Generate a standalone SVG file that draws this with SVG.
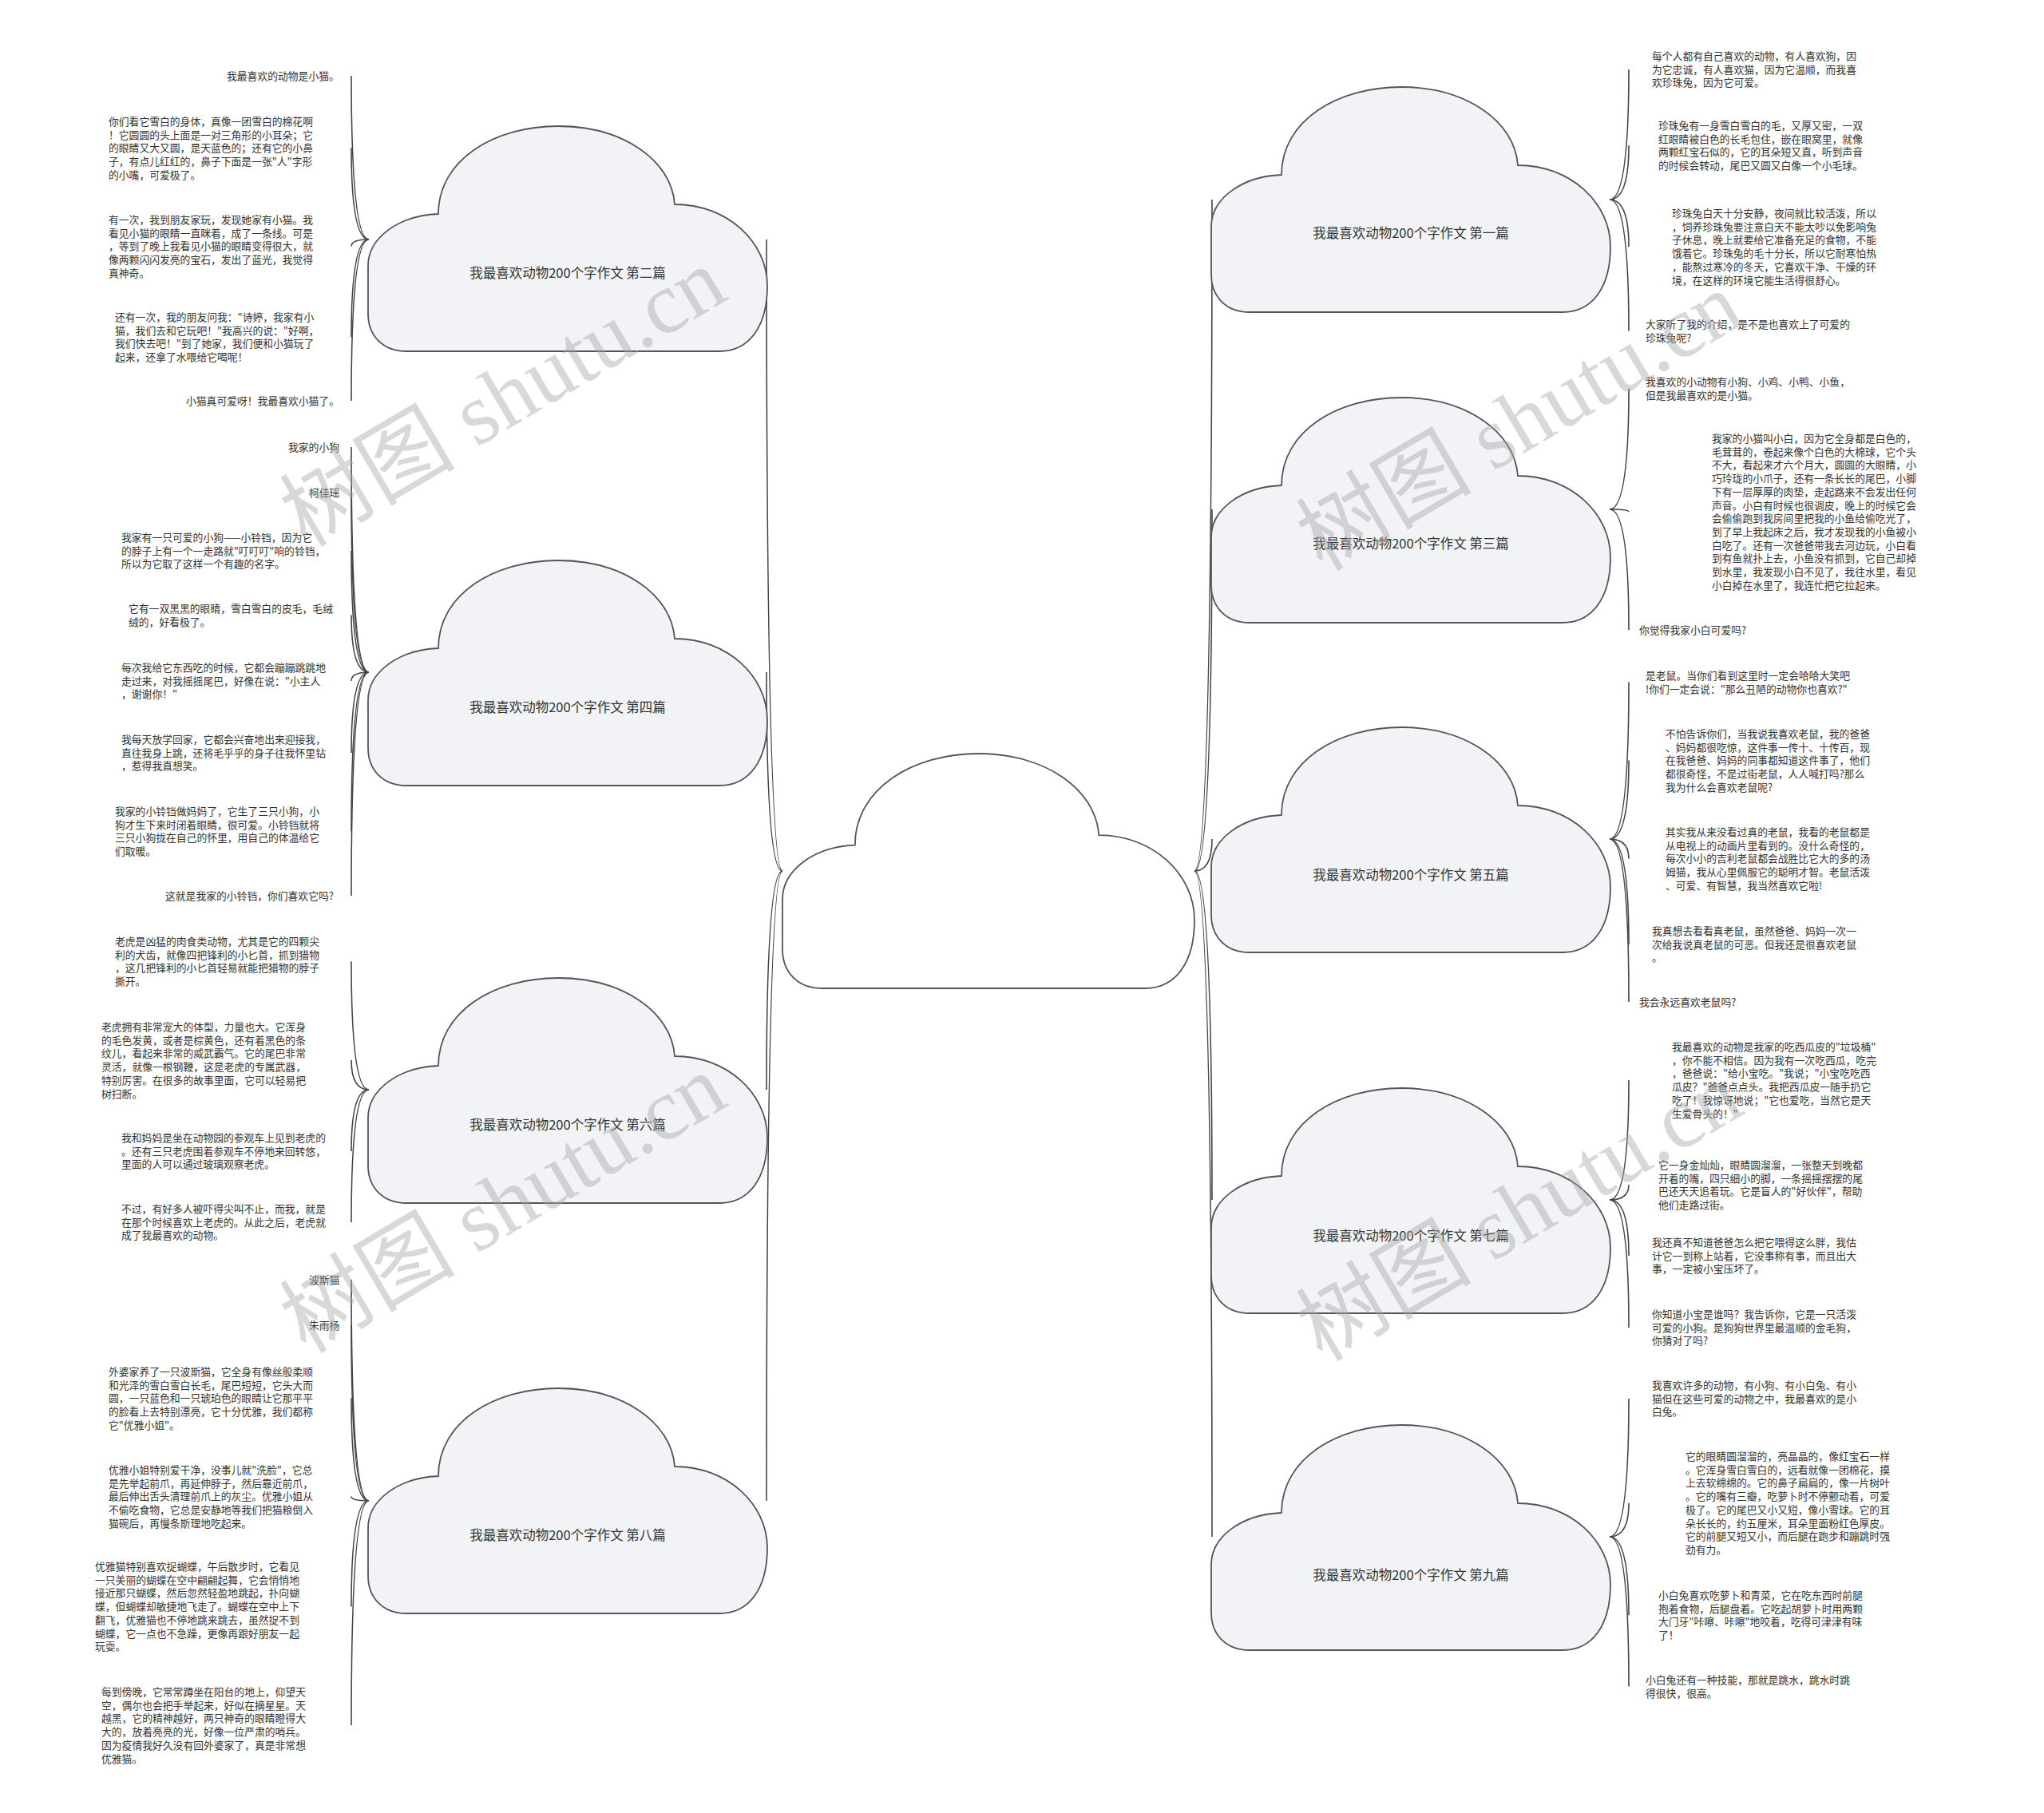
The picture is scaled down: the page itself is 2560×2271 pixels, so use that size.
<svg xmlns="http://www.w3.org/2000/svg" xmlns:xlink="http://www.w3.org/1999/xlink" width="2560" height="2271" viewBox="0 0 2560 2271">
<style>
.cl{fill:#f1f3f6;stroke:#555;stroke-width:1.8}
.root{fill:#fff;stroke:#555;stroke-width:1.8}
.lab{font-family:"Noto Sans CJK SC",sans-serif;font-size:16.5px;fill:#333;text-anchor:middle}
.lf{font-family:"Noto Sans CJK SC",sans-serif;font-size:12.8px;fill:#333}
.ln{fill:none;stroke:#444;stroke-width:1.6}
.wm{font-family:"Liberation Serif","Noto Sans CJK SC",serif;font-size:110px;fill:#a8a8a8;fill-opacity:0.45;text-anchor:middle}
</style>
<defs>
<path id="cloud" vector-effect="non-scaling-stroke" d="M48,282 C18,282 0,262 0,235 L0,175 C0,140 38,112 88,110 C88,42 158,0 238,0 C318,0 380,42 384,98 C450,98 500,145 500,200 C500,250 478,282 440,282 Z"/>
</defs>
<rect width="2560" height="2271" fill="#fff"/>
<g id="connectors">
<path class="ln" d="M980,1091 Q960,1091 960,300"/>
<path class="ln" d="M980,1091 Q960,1091 960,842"/>
<path class="ln" d="M980,1091 Q960,1091 960,1365"/>
<path class="ln" d="M980,1091 Q960,1091 960,1880"/>
<path class="ln" d="M1496,1091 Q1518,1091 1518,250"/>
<path class="ln" d="M1496,1091 Q1518,1091 1518,638"/>
<path class="ln" d="M1496,1091 Q1518,1091 1518,1051"/>
<path class="ln" d="M1496,1091 Q1518,1091 1518,1503"/>
<path class="ln" d="M1496,1091 Q1518,1091 1518,1925"/>
<path class="ln" d="M462,300 Q440,300 440,95"/>
<path class="ln" d="M462,300 Q440,300 440,185.6"/>
<path class="ln" d="M462,300 Q440,300 440,308.6"/>
<path class="ln" d="M462,300 Q440,300 440,422.3"/>
<path class="ln" d="M462,300 Q440,300 440,502"/>
<path class="ln" d="M462,842 Q440,842 440,560"/>
<path class="ln" d="M462,842 Q440,842 440,617"/>
<path class="ln" d="M462,842 Q440,842 440,690"/>
<path class="ln" d="M462,842 Q440,842 440,770.6"/>
<path class="ln" d="M462,842 Q440,842 440,853"/>
<path class="ln" d="M462,842 Q440,842 440,943"/>
<path class="ln" d="M462,842 Q440,842 440,1041.3"/>
<path class="ln" d="M462,842 Q440,842 440,1122"/>
<path class="ln" d="M462,1365 Q440,1365 440,1204.3"/>
<path class="ln" d="M462,1365 Q440,1365 440,1328"/>
<path class="ln" d="M462,1365 Q440,1365 440,1442"/>
<path class="ln" d="M462,1365 Q440,1365 440,1531"/>
<path class="ln" d="M462,1880 Q440,1880 440,1603"/>
<path class="ln" d="M462,1880 Q440,1880 440,1660"/>
<path class="ln" d="M462,1880 Q440,1880 440,1751.6"/>
<path class="ln" d="M462,1880 Q440,1880 440,1874.6"/>
<path class="ln" d="M462,1880 Q440,1880 440,2012.4"/>
<path class="ln" d="M462,1880 Q440,1880 440,2161"/>
<path class="ln" d="M2016,250 Q2040,250 2040,87"/>
<path class="ln" d="M2016,250 Q2040,250 2040,182.3"/>
<path class="ln" d="M2016,250 Q2040,250 2040,309"/>
<path class="ln" d="M2016,250 Q2040,250 2040,414.6"/>
<path class="ln" d="M2016,638 Q2040,638 2040,486.6"/>
<path class="ln" d="M2016,638 Q2040,638 2040,641.1"/>
<path class="ln" d="M2016,638 Q2040,638 2040,789"/>
<path class="ln" d="M2016,1051 Q2040,1051 2040,854.6"/>
<path class="ln" d="M2016,1051 Q2040,1051 2040,952.6"/>
<path class="ln" d="M2016,1051 Q2040,1051 2040,1075.6"/>
<path class="ln" d="M2016,1051 Q2040,1051 2040,1183"/>
<path class="ln" d="M2016,1051 Q2040,1051 2040,1255"/>
<path class="ln" d="M2016,1503 Q2040,1503 2040,1353"/>
<path class="ln" d="M2016,1503 Q2040,1503 2040,1484.3"/>
<path class="ln" d="M2016,1503 Q2040,1503 2040,1573"/>
<path class="ln" d="M2016,1503 Q2040,1503 2040,1663"/>
<path class="ln" d="M2016,1925 Q2040,1925 2040,1752"/>
<path class="ln" d="M2016,1925 Q2040,1925 2040,1882.7"/>
<path class="ln" d="M2016,1925 Q2040,1925 2040,2023.3"/>
<path class="ln" d="M2016,1925 Q2040,1925 2040,2112.6"/>
</g>
<g id="root"><use xlink:href="#cloud" class="root" transform="translate(980,944) scale(1.032,1.0426)"/></g>
<g id="p2"><use xlink:href="#cloud" class="cl" transform="translate(461,158)"/><text class="lab" x="711" y="348">我最喜欢动物200个字作文 第二篇</text></g>
<g id="p4"><use xlink:href="#cloud" class="cl" transform="translate(461,702)"/><text class="lab" x="711" y="892">我最喜欢动物200个字作文 第四篇</text></g>
<g id="p6"><use xlink:href="#cloud" class="cl" transform="translate(461,1225)"/><text class="lab" x="711" y="1415">我最喜欢动物200个字作文 第六篇</text></g>
<g id="p8"><use xlink:href="#cloud" class="cl" transform="translate(461,1739)"/><text class="lab" x="711" y="1929">我最喜欢动物200个字作文 第八篇</text></g>
<g id="p1"><use xlink:href="#cloud" class="cl" transform="translate(1517,109)"/><text class="lab" x="1767" y="298">我最喜欢动物200个字作文 第一篇</text></g>
<g id="p3"><use xlink:href="#cloud" class="cl" transform="translate(1517,498)"/><text class="lab" x="1767" y="687">我最喜欢动物200个字作文 第三篇</text></g>
<g id="p5"><use xlink:href="#cloud" class="cl" transform="translate(1517,911)"/><text class="lab" x="1767" y="1102">我最喜欢动物200个字作文 第五篇</text></g>
<g id="p7"><use xlink:href="#cloud" class="cl" transform="translate(1517,1363)"/><text class="lab" x="1767" y="1554">我最喜欢动物200个字作文 第七篇</text></g>
<g id="p9"><use xlink:href="#cloud" class="cl" transform="translate(1517,1785)"/><text class="lab" x="1767" y="1979">我最喜欢动物200个字作文 第九篇</text></g>
<g id="a1"><text class="lf" x="284" y="100">我最喜欢的动物是小猫。</text></g>
<g id="a2"><text class="lf" x="136" y="157"><tspan x="136">你们看它雪白的身体，真像一团雪白的棉花啊</tspan><tspan x="136" dy="16.7">！它圆圆的头上面是一对三角形的小耳朵；它</tspan><tspan x="136" dy="16.7">的眼睛又大又圆，是天蓝色的；还有它的小鼻</tspan><tspan x="136" dy="16.7">子，有点儿红红的，鼻子下面是一张"人"字形</tspan><tspan x="136" dy="16.7">的小嘴，可爱极了。</tspan></text></g>
<g id="a3"><text class="lf" x="136" y="280"><tspan x="136">有一次，我到朋友家玩，发现她家有小猫。我</tspan><tspan x="136" dy="16.7">看见小猫的眼睛一直眯着，成了一条线。可是</tspan><tspan x="136" dy="16.7">，等到了晚上我看见小猫的眼睛变得很大，就</tspan><tspan x="136" dy="16.7">像两颗闪闪发亮的宝石，发出了蓝光，我觉得</tspan><tspan x="136" dy="16.7">真神奇。</tspan></text></g>
<g id="a4"><text class="lf" x="144" y="402"><tspan x="144">还有一次，我的朋友问我："诗婷，我家有小</tspan><tspan x="144" dy="16.7">猫，我们去和它玩吧！"我高兴的说："好啊，</tspan><tspan x="144" dy="16.7">我们快去吧！"到了她家，我们便和小猫玩了</tspan><tspan x="144" dy="16.7">起来，还拿了水喂给它喝呢！</tspan></text></g>
<g id="a5"><text class="lf" x="233" y="507">小猫真可爱呀！我最喜欢小猫了。</text></g>
<g id="b1"><text class="lf" x="361" y="565">我家的小狗</text></g>
<g id="b2"><text class="lf" x="387" y="622">柯佳瑶</text></g>
<g id="b3"><text class="lf" x="152" y="678"><tspan x="152">我家有一只可爱的小狗——小铃铛，因为它</tspan><tspan x="152" dy="16.7">的脖子上有一个一走路就"叮叮叮"响的铃铛，</tspan><tspan x="152" dy="16.7">所以为它取了这样一个有趣的名字。</tspan></text></g>
<g id="b4"><text class="lf" x="161" y="767"><tspan x="161">它有一双黑黑的眼睛，雪白雪白的皮毛，毛绒</tspan><tspan x="161" dy="16.7">绒的，好看极了。</tspan></text></g>
<g id="b5"><text class="lf" x="152" y="841"><tspan x="152">每次我给它东西吃的时候，它都会蹦蹦跳跳地</tspan><tspan x="152" dy="16.7">走过来，对我摇摇尾巴，好像在说："小主人</tspan><tspan x="152" dy="16.7">，谢谢你！"</tspan></text></g>
<g id="b6"><text class="lf" x="152" y="931"><tspan x="152">我每天放学回家，它都会兴奋地出来迎接我，</tspan><tspan x="152" dy="16.7">直往我身上跳，还将毛乎乎的身子往我怀里钻</tspan><tspan x="152" dy="16.7">，惹得我直想笑。</tspan></text></g>
<g id="b7"><text class="lf" x="144" y="1021"><tspan x="144">我家的小铃铛做妈妈了，它生了三只小狗，小</tspan><tspan x="144" dy="16.7">狗才生下来时闭着眼睛，很可爱。小铃铛就将</tspan><tspan x="144" dy="16.7">三只小狗拢在自己的怀里，用自己的体温给它</tspan><tspan x="144" dy="16.7">们取暖。</tspan></text></g>
<g id="b8"><text class="lf" x="207" y="1127">这就是我家的小铃铛，你们喜欢它吗?</text></g>
<g id="c1"><text class="lf" x="144" y="1184"><tspan x="144">老虎是凶猛的肉食类动物，尤其是它的四颗尖</tspan><tspan x="144" dy="16.7">利的犬齿，就像四把锋利的小匕首，抓到猎物</tspan><tspan x="144" dy="16.7">，这几把锋利的小匕首轻易就能把猎物的脖子</tspan><tspan x="144" dy="16.7">撕开。</tspan></text></g>
<g id="c2"><text class="lf" x="127" y="1291"><tspan x="127">老虎拥有非常宠大的体型，力量也大。它浑身</tspan><tspan x="127" dy="16.7">的毛色发黄，或者是棕黄色，还有着黑色的条</tspan><tspan x="127" dy="16.7">纹儿，看起来非常的威武霸气。它的尾巴非常</tspan><tspan x="127" dy="16.7">灵活，就像一根钢鞭，这是老虎的专属武器，</tspan><tspan x="127" dy="16.7">特别厉害。在很多的故事里面，它可以轻易把</tspan><tspan x="127" dy="16.7">树扫断。</tspan></text></g>
<g id="c3"><text class="lf" x="152" y="1430"><tspan x="152">我和妈妈是坐在动物园的参观车上见到老虎的</tspan><tspan x="152" dy="16.7">。还有三只老虎围着参观车不停地来回转悠，</tspan><tspan x="152" dy="16.7">里面的人可以通过玻璃观察老虎。</tspan></text></g>
<g id="c4"><text class="lf" x="152" y="1519"><tspan x="152">不过，有好多人被吓得尖叫不止，而我，就是</tspan><tspan x="152" dy="16.7">在那个时候喜欢上老虎的。从此之后，老虎就</tspan><tspan x="152" dy="16.7">成了我最喜欢的动物。</tspan></text></g>
<g id="d1"><text class="lf" x="387" y="1608">波斯猫</text></g>
<g id="d2"><text class="lf" x="387" y="1665">朱雨杨</text></g>
<g id="d3"><text class="lf" x="136" y="1723"><tspan x="136">外婆家养了一只波斯猫，它全身有像丝般柔顺</tspan><tspan x="136" dy="16.7">和光泽的雪白雪白长毛，尾巴短短，它头大而</tspan><tspan x="136" dy="16.7">圆，一只蓝色和一只琥珀色的眼睛让它那平平</tspan><tspan x="136" dy="16.7">的脸看上去特别漂亮，它十分优雅，我们都称</tspan><tspan x="136" dy="16.7">它"优雅小姐"。</tspan></text></g>
<g id="d4"><text class="lf" x="136" y="1846"><tspan x="136">优雅小姐特别爱干净，没事儿就"洗脸"，它总</tspan><tspan x="136" dy="16.7">是先举起前爪，再延伸脖子，然后靠近前爪，</tspan><tspan x="136" dy="16.7">最后伸出舌头清理前爪上的灰尘。优雅小姐从</tspan><tspan x="136" dy="16.7">不偷吃食物，它总是安静地等我们把猫粮倒入</tspan><tspan x="136" dy="16.7">猫碗后，再慢条斯理地吃起来。</tspan></text></g>
<g id="d5"><text class="lf" x="119" y="1967"><tspan x="119">优雅猫特别喜欢捉蝴蝶，午后散步时，它看见</tspan><tspan x="119" dy="16.7">一只美丽的蝴蝶在空中翩翩起舞，它会悄悄地</tspan><tspan x="119" dy="16.7">接近那只蝴蝶，然后忽然轻盈地跳起，扑向蝴</tspan><tspan x="119" dy="16.7">蝶，但蝴蝶却敏捷地飞走了。蝴蝶在空中上下</tspan><tspan x="119" dy="16.7">翻飞，优雅猫也不停地跳来跳去，虽然捉不到</tspan><tspan x="119" dy="16.7">蝴蝶，它一点也不急躁，更像再跟好朋友一起</tspan><tspan x="119" dy="16.7">玩耍。</tspan></text></g>
<g id="d6"><text class="lf" x="127" y="2124"><tspan x="127">每到傍晚，它常常蹲坐在阳台的地上，仰望天</tspan><tspan x="127" dy="16.7">空，偶尔也会把手举起来，好似在摘星星。天</tspan><tspan x="127" dy="16.7">越黑，它的精神越好，两只神奇的眼睛瞪得大</tspan><tspan x="127" dy="16.7">大的，放着亮亮的光，好像一位严肃的哨兵。</tspan><tspan x="127" dy="16.7">因为疫情我好久没有回外婆家了，真是非常想</tspan><tspan x="127" dy="16.7">优雅猫。</tspan></text></g>
<g id="e1"><text class="lf" x="2069" y="75"><tspan x="2069">每个人都有自己喜欢的动物，有人喜欢狗，因</tspan><tspan x="2069" dy="16.7">为它忠诚，有人喜欢猫，因为它温顺，而我喜</tspan><tspan x="2069" dy="16.7">欢珍珠兔，因为它可爱。</tspan></text></g>
<g id="e2"><text class="lf" x="2077" y="162"><tspan x="2077">珍珠兔有一身雪白雪白的毛，又厚又密，一双</tspan><tspan x="2077" dy="16.7">红眼睛被白色的长毛包住，嵌在眼窝里，就像</tspan><tspan x="2077" dy="16.7">两颗红宝石似的，它的耳朵短又直，听到声音</tspan><tspan x="2077" dy="16.7">的时候会转动，尾巴又圆又白像一个小毛球。</tspan></text></g>
<g id="e3"><text class="lf" x="2094" y="272"><tspan x="2094">珍珠兔白天十分安静，夜间就比较活泼，所以</tspan><tspan x="2094" dy="16.7">，饲养珍珠兔要注意白天不能太吵以免影响兔</tspan><tspan x="2094" dy="16.7">子休息，晚上就要给它准备充足的食物，不能</tspan><tspan x="2094" dy="16.7">饿着它。珍珠兔的毛十分长，所以它耐寒怕热</tspan><tspan x="2094" dy="16.7">，能熬过寒冷的冬天，它喜欢干净、干燥的环</tspan><tspan x="2094" dy="16.7">境，在这样的环境它能生活得很舒心。</tspan></text></g>
<g id="e4"><text class="lf" x="2061" y="411"><tspan x="2061">大家听了我的介绍，是不是也喜欢上了可爱的</tspan><tspan x="2061" dy="16.7">珍珠兔呢?</tspan></text></g>
<g id="f1"><text class="lf" x="2061" y="483"><tspan x="2061">我喜欢的小动物有小狗、小鸡、小鸭、小鱼，</tspan><tspan x="2061" dy="16.7">但是我最喜欢的是小猫。</tspan></text></g>
<g id="f2"><text class="lf" x="2144" y="554"><tspan x="2144">我家的小猫叫小白，因为它全身都是白色的，</tspan><tspan x="2144" dy="16.7">毛茸茸的，卷起来像个白色的大棉球，它个头</tspan><tspan x="2144" dy="16.7">不大，看起来才六个月大，圆圆的大眼睛，小</tspan><tspan x="2144" dy="16.7">巧玲珑的小爪子，还有一条长长的尾巴，小脚</tspan><tspan x="2144" dy="16.7">下有一层厚厚的肉垫，走起路来不会发出任何</tspan><tspan x="2144" dy="16.7">声音。小白有时候也很调皮，晚上的时候它会</tspan><tspan x="2144" dy="16.7">会偷偷跑到我房间里把我的小鱼给偷吃光了，</tspan><tspan x="2144" dy="16.7">到了早上我起床之后，我才发现我的小鱼被小</tspan><tspan x="2144" dy="16.7">白吃了。还有一次爸爸带我去河边玩，小白看</tspan><tspan x="2144" dy="16.7">到有鱼就扑上去，小鱼没有抓到，它自己却掉</tspan><tspan x="2144" dy="16.7">到水里，我发现小白不见了，我往水里，看见</tspan><tspan x="2144" dy="16.7">小白掉在水里了，我连忙把它拉起来。</tspan></text></g>
<g id="f3"><text class="lf" x="2053" y="794">你觉得我家小白可爱吗?</text></g>
<g id="g1"><text class="lf" x="2061" y="851"><tspan x="2061">是老鼠。当你们看到这里时一定会哈哈大笑吧</tspan><tspan x="2061" dy="16.7">!你们一定会说："那么丑陋的动物你也喜欢?"</tspan></text></g>
<g id="g2"><text class="lf" x="2086" y="924"><tspan x="2086">不怕告诉你们，当我说我喜欢老鼠，我的爸爸</tspan><tspan x="2086" dy="16.7">、妈妈都很吃惊，这件事一传十、十传百，现</tspan><tspan x="2086" dy="16.7">在我爸爸、妈妈的同事都知道这件事了，他们</tspan><tspan x="2086" dy="16.7">都很奇怪，不是过街老鼠，人人喊打吗?那么</tspan><tspan x="2086" dy="16.7">我为什么会喜欢老鼠呢?</tspan></text></g>
<g id="g3"><text class="lf" x="2086" y="1047"><tspan x="2086">其实我从来没看过真的老鼠，我看的老鼠都是</tspan><tspan x="2086" dy="16.7">从电视上的动画片里看到的。没什么奇怪的，</tspan><tspan x="2086" dy="16.7">每次小小的吉利老鼠都会战胜比它大的多的汤</tspan><tspan x="2086" dy="16.7">姆猫，我从心里佩服它的聪明才智。老鼠活泼</tspan><tspan x="2086" dy="16.7">、可爱、有智慧，我当然喜欢它啦!</tspan></text></g>
<g id="g4"><text class="lf" x="2069" y="1171"><tspan x="2069">我真想去看看真老鼠，虽然爸爸、妈妈一次一</tspan><tspan x="2069" dy="16.7">次给我说真老鼠的可恶。但我还是很喜欢老鼠</tspan><tspan x="2069" dy="16.7">。</tspan></text></g>
<g id="g5"><text class="lf" x="2053" y="1260">我会永远喜欢老鼠吗?</text></g>
<g id="h1"><text class="lf" x="2094" y="1316"><tspan x="2094">我最喜欢的动物是我家的吃西瓜皮的"垃圾桶"</tspan><tspan x="2094" dy="16.7">，你不能不相信。因为我有一次吃西瓜，吃完</tspan><tspan x="2094" dy="16.7">，爸爸说："给小宝吃。"我说；"小宝吃吃西</tspan><tspan x="2094" dy="16.7">瓜皮？"爸爸点点头。我把西瓜皮一随手扔它</tspan><tspan x="2094" dy="16.7">吃了！我惊讶地说；"它也爱吃，当然它是天</tspan><tspan x="2094" dy="16.7">生爱骨头的！"</tspan></text></g>
<g id="h2"><text class="lf" x="2077" y="1464"><tspan x="2077">它一身金灿灿，眼睛圆溜溜，一张整天到晚都</tspan><tspan x="2077" dy="16.7">开着的嘴，四只细小的脚，一条摇摇摆摆的尾</tspan><tspan x="2077" dy="16.7">巴还天天追着玩。它是盲人的"好伙伴"，帮助</tspan><tspan x="2077" dy="16.7">他们走路过街。</tspan></text></g>
<g id="h3"><text class="lf" x="2069" y="1561"><tspan x="2069">我还真不知道爸爸怎么把它喂得这么胖，我估</tspan><tspan x="2069" dy="16.7">计它一到称上站着，它没事称有事，而且出大</tspan><tspan x="2069" dy="16.7">事，一定被小宝压坏了。</tspan></text></g>
<g id="h4"><text class="lf" x="2069" y="1651"><tspan x="2069">你知道小宝是谁吗？我告诉你，它是一只活泼</tspan><tspan x="2069" dy="16.7">可爱的小狗。是狗狗世界里最温顺的金毛狗，</tspan><tspan x="2069" dy="16.7">你猜对了吗?</tspan></text></g>
<g id="i1"><text class="lf" x="2069" y="1740"><tspan x="2069">我喜欢许多的动物，有小狗、有小白兔、有小</tspan><tspan x="2069" dy="16.7">猫但在这些可爱的动物之中，我最喜欢的是小</tspan><tspan x="2069" dy="16.7">白兔。</tspan></text></g>
<g id="i2"><text class="lf" x="2111" y="1829"><tspan x="2111">它的眼睛圆溜溜的，亮晶晶的，像红宝石一样</tspan><tspan x="2111" dy="16.7">。它浑身雪白雪白的，远看就像一团棉花，摸</tspan><tspan x="2111" dy="16.7">上去软绵绵的。它的鼻子扁扁的，像一片树叶</tspan><tspan x="2111" dy="16.7">。它的嘴有三瓣，吃萝卜时不停颤动着，可爱</tspan><tspan x="2111" dy="16.7">极了。它的尾巴又小又短，像小雪球。它的耳</tspan><tspan x="2111" dy="16.7">朵长长的，约五厘米，耳朵里面粉红色厚皮。</tspan><tspan x="2111" dy="16.7">它的前腿又短又小，而后腿在跑步和蹦跳时强</tspan><tspan x="2111" dy="16.7">劲有力。</tspan></text></g>
<g id="i3"><text class="lf" x="2077" y="2003"><tspan x="2077">小白兔喜欢吃萝卜和青菜，它在吃东西时前腿</tspan><tspan x="2077" dy="16.7">抱着食物，后腿盘着。它吃起胡萝卜时用两颗</tspan><tspan x="2077" dy="16.7">大门牙"咔嚓、咔嚓"地咬着，吃得可津津有味</tspan><tspan x="2077" dy="16.7">了！</tspan></text></g>
<g id="i4"><text class="lf" x="2061" y="2109"><tspan x="2061">小白兔还有一种技能，那就是跳水，跳水时跳</tspan><tspan x="2061" dy="16.7">得很快，很高。</tspan></text></g>
<g id="watermark">
<text class="wm" transform="translate(649,530) rotate(-30.5)">树图 shutu.cn</text>
<text class="wm" transform="translate(1922,560) rotate(-30.5)">树图 shutu.cn</text>
<text class="wm" transform="translate(649,1540) rotate(-30.5)">树图 shutu.cn</text>
<text class="wm" transform="translate(1922,1550) rotate(-30.5)">树图 shutu.cn</text>
</g>
</svg>
